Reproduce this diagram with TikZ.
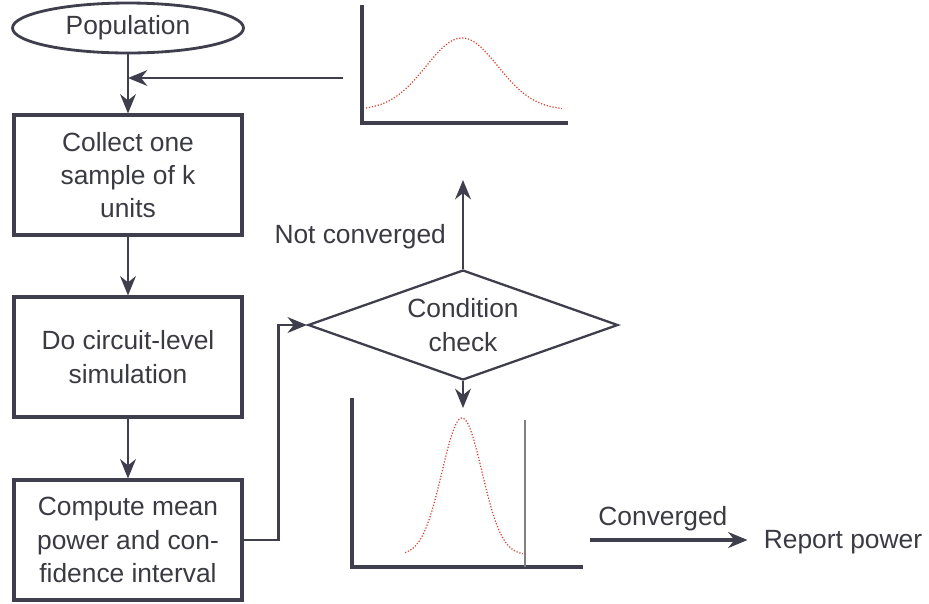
\documentclass[tikz,border=0pt]{standalone}
\usepackage{fontspec}
\setmainfont{Liberation Sans}
\usetikzlibrary{shapes.geometric,positioning,arrows.meta}
\definecolor{linegray}{HTML}{3E3E4C}
\definecolor{textgray}{HTML}{3A3A42}
\definecolor{curvered}{HTML}{D9452F}

\begin{document}
\begin{tikzpicture}[>={Stealth[length=11pt, width=9pt]}, x=0.02cm, y=-0.02cm, color=linegray,
    every node/.style={text=textgray, font=\fontsize{15pt}{19pt}\selectfont},
    start/.style={draw, ellipse, minimum width=4.62cm, minimum height=1cm, inner sep=0pt, line width=1.6pt},
    stage/.style={draw, rectangle, minimum width=4.56cm, minimum height=2.4cm, inner sep=0pt, align=center, line width=1.8pt},
    check/.style={draw, diamond, aspect=2.8, minimum width=6.2cm, minimum height=2.2cm, inner sep=0pt, align=center, line width=1.3pt},
    flow/.style={->, line width=1.4pt},
    axis/.style={line width=1.8pt},
    bell/.style={curvered, densely dotted, line width=0.7pt}]
    \useasboundingbox (0,0) rectangle (929,603);

    % Flow chart blocks
    \node[start] (pop) at (128,28) {Population};
    \node[stage] (collect) at (128,175) {Collect one\\sample of k\\units};
    \node[stage] (sim) at (128,357) {Do circuit-level\\simulation};
    \node[stage] (mean) at (128,540) {Compute mean\\power and con-\\fidence interval};
    \node[check] (cond) at (463,325) {Condition\\check};
    \node[inner sep=0pt] (report) at (843,542) {Report power};

    % Free ends of connectors
    \coordinate (feed) at (343,78);
    \coordinate (join) at (128,78);
    \coordinate (up) at (463,180);
    \coordinate (low) at (463,408);
    \coordinate (conv) at (590,540);

    % Connectors
    \draw[flow] (pop) -- (collect);
    \draw[flow] (feed) -- (join);
    \draw[flow] (collect) -- (sim);
    \draw[flow] (sim) -- (mean);
    \draw[flow] (mean.east) -- ++(35,0) |- (cond.west);
    \draw[flow] (cond.north) -- (up) node[pos=0.36, left=0.2cm] {Not converged};
    \draw[flow] (cond.south) -- (low);
    \draw[->, line width=2pt, shorten >=0.32cm] (conv) -- (conv -| report.west) node[pos=0.42, above=1pt] {Converged};

    % Distribution before sampling
    \draw[axis] (362,5) -- (362,123) -- (568,123);
    \draw[bell] plot[domain=366:562, samples=90] (\x, {110 - 72*exp(-((\x-462)^2)/(2*36^2))});

    % Distribution of the mean
    \draw[axis] (352,398) -- (352,567) -- (583,567);
    \draw[gray, line width=0.6pt] (525,420) -- (525,567);
    \draw[bell] plot[domain=405:523, samples=90] (\x, {555 - 137*exp(-((\x-462)^2)/(2*20^2))});
\end{tikzpicture}
\end{document}
